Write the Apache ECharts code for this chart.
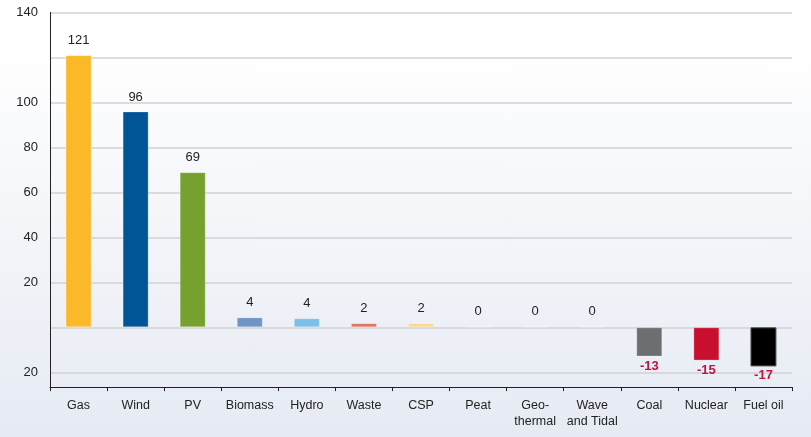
<!DOCTYPE html>
<html>
<head>
<meta charset="utf-8">
<script src="https://cdn.jsdelivr.net/npm/echarts@6/dist/echarts.min.js"></script>
<style>
html,body{margin:0;padding:0;}
#chart{width:811px;height:437px;background:linear-gradient(to bottom,#ffffff 0%,#ffffff 10%,#e6eaf3 100%);}
</style>
</head>
<body>
<div id="chart"></div>
<script>
const categories = ["Gas","Wind","PV","Biomass","Hydro","Waste","CSP","Peat","Geo-\nthermal","Wave\nand Tidal","Coal","Nuclear","Fuel oil"];
const values = [121, 96, 69, 4.4, 4.0, 1.8, 1.8, 0.4, 0.4, 0.4, -13, -14.8, -17.4];
const barColors = ["#fbb829","#005596","#76a12f","#7094c4","#7dbfe8","#e07060","#fcd890","#cfd0bd","#c9cfdd","#dadfce","#6d6e71","#c8102e","#000000"];
const gridValues = [-20, 0, 20, 40, 60, 80, 100, 120, 140];
const yLabelValues = [-20, 20, 40, 60, 80, 100, 140];

const chart = echarts.init(document.getElementById('chart'));
chart.setOption({
  backgroundColor: 'transparent',
  animation: false,
  textStyle: {fontFamily: 'Liberation Sans, Arial, sans-serif'},
  grid: {left: 50, right: 19, top: 12.5, height: 374.6, containLabel: false},
  xAxis: {
    type: 'category',
    data: categories,
    axisLine: {onZero: false, lineStyle: {color: '#222', width: 1}},
    axisTick: {show: true, length: 4, lineStyle: {color: '#222'}},
    axisLabel: {color: '#222', fontSize: 12.5, lineHeight: 16, margin: 10, interval: 0}
  },
  yAxis: {
    type: 'value',
    min: -26.6,
    max: 140,
    axisLine: {show: true, lineStyle: {color: '#222'}},
    axisTick: {show: false, customValues: gridValues},
    splitLine: {lineStyle: {color: '#d2d2d2', width: 1.5}},
    axisLabel: {
      color: '#222', fontSize: 13, margin: 12,
      customValues: yLabelValues,
      formatter: v => String(Math.abs(v))
    }
  },
  series: [{
    type: 'bar',
    data: values.map((v, i) => ({
      value: v,
      itemStyle: {color: barColors[i], borderColor: i === 12 ? '#555' : 'rgba(255,255,255,0.25)', borderWidth: 1},
      label: v < 0 ? {position: 'bottom', color: '#c0143c', fontWeight: 'bold', distance: 3} : {position: 'top', color: '#222', distance: 8}
    })),
    barWidth: 26,
    label: {
      show: true,
      fontSize: 13,
      formatter: p => String(Math.round(p.value))
    }
  }]
});
</script>
</body>
</html>
